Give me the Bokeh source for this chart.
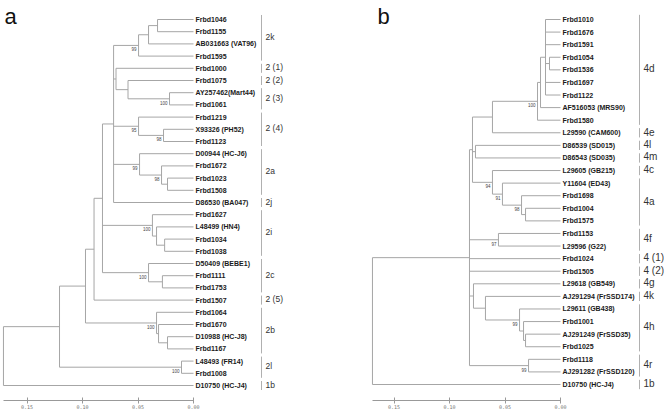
from bokeh.plotting import figure
from bokeh.layouts import row
from bokeh.models import Range1d, FixedTicker, PrintfTickFormatter
from bokeh.core.properties import value
from bokeh.embed import file_html
from bokeh.resources import INLINE

# ---------------- Panel a data ----------------
leaves_a = ["Frbd1046", "Frbd1155", "AB031663 (VAT96)", "Frbd1595", "Frbd1000",
            "Frbd1075", "AY257462(Mart44)", "Frbd1061", "Frbd1219", "X93326 (PH52)",
            "Frbd1123", "D00944 (HC-J6)", "Frbd1672", "Frbd1023", "Frbd1508",
            "D86530 (BA047)", "Frbd1627", "L48499 (HN4)", "Frbd1034", "Frbd1038",
            "D50409 (BEBE1)", "Frbd1111", "Frbd1753", "Frbd1507", "Frbd1064",
            "Frbd1670", "D10988 (HC-J8)", "Frbd1167", "L48493 (FR14)", "Frbd1008",
            "D10750 (HC-J4)"]
node_a_names = ["n1", "n2", "n3", "n4", "n5", "n6", "n8", "n9", "n10", "n11", "n12", "A",
                "i1", "i2", "i3", "c0", "c1", "B", "C", "b1", "b2", "b3", "D", "l", "E", "root"]
node_a_children = [[0, 1], ["n1", 2], ["n2", 3], [6, 7], [5, "n4"], [4, "n5"],
                   [9, 10], [8, "n8"], [13, 14], [12, "n10"], [11, "n11"],
                   ["n3", "n6", "n9", "n12", 15],
                   [18, 19], [17, "i1"], [16, "i2"], [21, 22], [20, "c0"],
                   ["A", "i3", "c1"], ["B", 23], [26, 27], [25, "b1"], [24, "b2"],
                   ["C", "b3"], [28, 29], ["D", "l"], ["E", 30]]
node_a_heights = [0.0324, 0.0405, 0.0495, 0.0216, 0.0590, 0.0698, 0.0270, 0.0495,
                  0.0234, 0.0288, 0.0486, 0.0720, 0.0260, 0.0333, 0.0370, 0.0280,
                  0.0405, 0.0820, 0.0896, 0.0234, 0.0315, 0.0333, 0.0973, 0.0108,
                  0.1207, 0.1712]
node_a_support = [None, None, "99", "100", None, None, "98", "95", None, "98", "99", None,
                  None, None, "100", None, "100", None, None, None, None, "100", None,
                  "100", None, None]
group_a_labels = ["2k", "2 (1)", "2 (2)", "2 (3)", "2 (4)", "2a", "2j", "2i", "2c",
                  "2 (5)", "2b", "2l", "1b"]
group_a_first = [0, 4, 5, 6, 8, 11, 15, 16, 20, 23, 24, 28, 30]
group_a_last = [3, 4, 5, 7, 10, 14, 15, 19, 22, 23, 27, 29, 30]

# ---------------- Panel b data ----------------
leaves_b = ["Frbd1010", "Frbd1676", "Frbd1591", "Frbd1054", "Frbd1536", "Frbd1697",
            "Frbd1122", "AF516053 (MRS90)", "Frbd1580", "L29590 (CAM600)",
            "D86539 (SD015)", "D86543 (SD035)", "L29605 (GB215)", "Y11604 (ED43)",
            "Frbd1698", "Frbd1004", "Frbd1575", "Frbd1153", "L29596 (G22)", "Frbd1024",
            "Frbd1505", "L29618 (GB549)", "AJ291294 (FrSSD174)", "L29611 (GB438)",
            "Frbd1001", "AJ291249 (FrSSD35)", "Frbd1025", "Frbd1118",
            "AJ291282 (FrSSD120)", "D10750 (HC-J4)"]
node_b_names = ["d0", "d1", "d2", "d3", "d4", "dd", "a1", "a2", "a3", "a4", "c1", "f",
                "h1", "h2", "h3", "k1", "g1", "r", "X", "root"]
node_b_children = [[3, 4], [0, 1, 2, "d0", 5, 6], ["d1", 7], ["d2", 8], ["d3", 9],
                   [10, 11], [15, 16], [14, "a1"], [13, "a2"], [12, "a3"],
                   ["d4", "dd", "a4"], [17, 18], [25, 26], [24, "h1"], [23, "h2"],
                   [22, "h3"], [21, "k1"], [27, 28],
                   ["c1", "f", 19, 20, "g1", "r"], ["X", 29]]
node_b_heights = [0.0099, 0.0135, 0.0180, 0.0207, 0.0613, 0.0766, 0.0315, 0.0351,
                  0.0523, 0.0613, 0.0793, 0.0559, 0.0315, 0.0333, 0.0369, 0.0676,
                  0.0784, 0.0288, 0.0820, 0.1694]
node_b_support = [None, None, None, "100", None, None, None, "98", "91", "94", None, "97",
                  None, None, "99", None, None, "99", None, None]
group_b_labels = ["4d", "4e", "4l", "4m", "4c", "4a", "4f", "4 (1)", "4 (2)", "4g", "4k",
                  "4h", "4r", "1b"]
group_b_first = [0, 9, 10, 11, 12, 13, 17, 19, 20, 21, 22, 23, 27, 29]
group_b_last = [8, 9, 10, 11, 12, 16, 18, 19, 20, 21, 22, 26, 28, 29]

scale_ticks = [0.15, 0.10, 0.05, 0.00]

FONT = value("Liberation Sans")
LINE = "#a6a6a6"
FIG_H = 411
FRAME_H = 400


def panel(leaves, names, children, heights, support, g_labels, g_first, g_last,
          letter, width, zero_px, ppu, first_px, last_px, bar_px, glabel_size,
          letter_px):
    n = len(leaves)
    s = (last_px - first_px) / (n - 1)
    y_range = Range1d(start=(n - 1) + (FRAME_H - last_px) / s, end=-first_px / s)
    x_range = Range1d(start=zero_px / ppu, end=-(width - zero_px) / ppu)
    p = figure(width=width, height=FIG_H, x_range=x_range, y_range=y_range,
               output_backend="svg", toolbar_location=None, min_border=0,
               y_axis_location=None, x_axis_location="below")
    p.grid.visible = False
    p.outline_line_color = None

    pos = {i: (0.0, float(i)) for i in range(n)}
    x0, y0, x1, y1 = [], [], [], []
    bx, by, bt = [], [], []
    for name, ch, h, sup in zip(names, children, heights, support):
        ys = [pos[c][1] for c in ch]
        x0.append(h); y0.append(ys[0]); x1.append(h); y1.append(ys[-1])
        for c in ch:
            x0.append(h); y0.append(pos[c][1]); x1.append(pos[c][0]); y1.append(pos[c][1])
        mid = (ys[0] + ys[-1]) / 2
        pos[name] = (h, mid)
        if sup:
            bx.append(h); by.append(mid); bt.append(sup)
    p.segment(x0=x0, y0=y0, x1=x1, y1=y1, line_color=LINE, line_width=1)

    p.text(x=bx, y=by, text=bt, text_font=FONT, text_font_size="4.5px",
           text_color="#444", text_align="right", text_baseline="middle",
           x_offset=-2, y_offset=4)

    p.text(x=[0.0] * n, y=list(range(n)), text=leaves, text_font=FONT,
           text_font_style="bold", text_font_size="7px", text_color="#1a1a1a",
           text_baseline="middle", x_offset=2)

    bar_x = -bar_px / ppu
    p.segment(x0=[bar_x] * len(g_labels), y0=[f - 0.37 for f in g_first],
              x1=[bar_x] * len(g_labels), y1=[l + 0.37 for l in g_last],
              line_color="#b0b0b0", line_width=1)
    p.text(x=[bar_x] * len(g_labels), y=[(f + l) / 2 for f, l in zip(g_first, g_last)],
           text=g_labels, text_font=FONT, text_font_size=glabel_size, text_color="#333",
           text_baseline="middle", x_offset=4, y_offset=-1)

    p.text(x=[x_range.start], y=[y_range.end + 16 / s], text=[letter], text_font=FONT,
           text_font_size="22px", text_color="#111", text_baseline="middle",
           x_offset=letter_px)

    ax = p.xaxis[0]
    ax.ticker = FixedTicker(ticks=scale_ticks)
    ax.formatter = PrintfTickFormatter(format="%.2f")
    ax.bounds = (0.0, heights[-1])
    ax.axis_line_color = "#999"
    ax.major_tick_line_color = "#999"
    ax.major_tick_in = 3
    ax.major_tick_out = 3
    ax.minor_tick_in = 0
    ax.minor_tick_out = 0
    ax.major_label_text_font_size = "5px"
    ax.major_label_text_color = "#777"
    ax.major_label_text_font = "DejaVu Sans Mono"
    ax.major_label_standoff = 1
    return p


pa = panel(leaves_a, node_a_names, node_a_children, node_a_heights, node_a_support,
           group_a_labels, group_a_first, group_a_last, "a",
           width=332, zero_px=193, ppu=1110, first_px=19, last_px=385, bar_px=68,
           glabel_size="8.5px", letter_px=4)
pb = panel(leaves_b, node_b_names, node_b_children, node_b_heights, node_b_support,
           group_b_labels, group_b_first, group_b_last, "b",
           width=332, zero_px=228, ppu=1110, first_px=19, last_px=384, bar_px=79,
           glabel_size="10px", letter_px=45)

layout = row(pa, pb)
open("out.html", "w").write(file_html(layout, INLINE))
